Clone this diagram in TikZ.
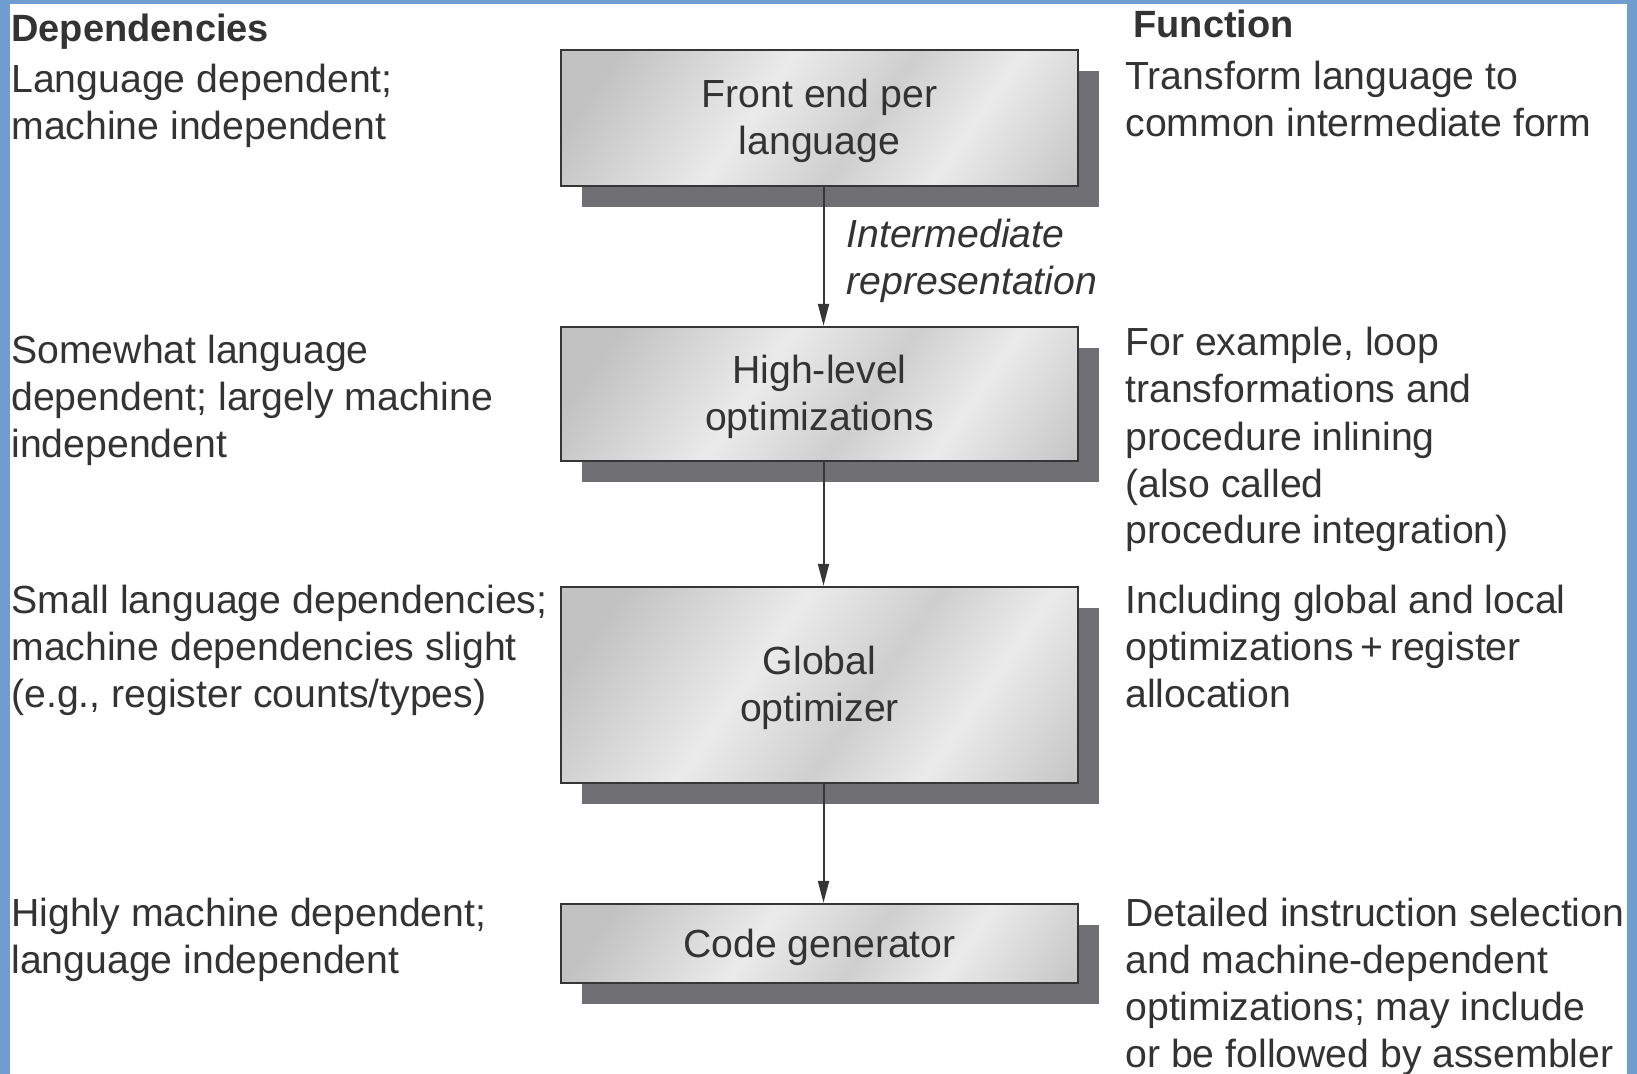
\documentclass[tikz,border=0pt]{standalone}
\usepackage{fontspec}
\setmainfont{Liberation Sans}
\usepackage{xcolor}
\usetikzlibrary{arrows.meta,positioning,shadows}

\definecolor{framebl}{HTML}{6F9DD0}
\definecolor{inkgray}{HTML}{333333}
\definecolor{shadegray}{HTML}{707074}
\definecolor{edgegray}{HTML}{363636}
\definecolor{metalA}{gray}{0.76}
\definecolor{metalB}{gray}{0.92}
\definecolor{metalC}{gray}{0.81}
\pgfdeclarehorizontalshading{metal}{100bp}{color(0bp)=(metalA); color(22bp)=(metalA); color(42bp)=(metalB); color(56bp)=(metalC); color(68bp)=(metalB); color(86bp)=(metalA); color(100bp)=(metalA)}
\newcommand{\upstrut}{\rule{0pt}{17.5pt}}

\begin{document}
\begin{tikzpicture}[
    x=0.5pt, y=-0.5pt,
    every node/.style={font=\fontsize{19.6}{23.5}\selectfont, text=inkgray},
    stage/.style={draw=edgegray, line width=1.2pt, shading=metal, shading angle=-35, minimum width=258.5pt, align=center, inner sep=0pt,
        drop shadow={shadow xshift=10.5pt, shadow yshift=-10.5pt, fill=shadegray, opacity=1}},
    note/.style={anchor=base west, align=left, inner sep=0pt},
    head/.style={note, font=\fontsize{19}{23.5}\selectfont\bfseries},
    arrow/.style={-{Triangle[length=11pt, width=5.5pt]}, line width=1pt, draw=edgegray}
]
    \useasboundingbox (0,0) rectangle (1637,1074);

    % Frame
    \fill[framebl] (0,0) rectangle (10,1074);
    \fill[framebl] (0,0) rectangle (1637,4);
    \fill[framebl] (1627,0) rectangle (1637,1074);

    % Stages
    \node[stage, minimum height=68pt] (front) at (819.5, 118) {\upstrut Front end per\\language};
    \node[stage, minimum height=67pt] (highlvl) at (819.5, 394) {\upstrut High-level\\optimizations};
    \node[stage, minimum height=98pt] (global) at (819.5, 685) {\upstrut Global\\optimizer};
    \node[stage, minimum height=39.5pt] (codegen) at (819.5, 943.5) {\rule{0pt}{18pt}Code generator};

    % Dependencies column (anchored at the last baseline)
    \node[head] (dephead) at (11, 42) {Dependencies};
    \node[note] (dep1) at (11, 140) {Language dependent;\\machine independent};
    \node[note] (dep2) at (11, 458) {Somewhat language\\dependent; largely machine\\independent};
    \node[note] (dep3) at (11, 707) {Small language dependencies;\\machine dependencies slight\\(e.g., register counts/types)};
    \node[note] (dep4) at (11, 973) {Highly machine dependent;\\language independent};

    % Function column
    \node[head] (funhead) at (1133, 38) {Function};
    \node[note] (fun1) at (1125, 137) {Transform language to\\common intermediate form};
    \node[note] (fun2) at (1125, 544) {For example, loop\\transformations and\\procedure inlining\\(also called\\procedure integration)};
    \node[note] (fun3) at (1125, 707) {Including global and local\\optimizations\,+\,register\\allocation};
    \node[note] (fun4) at (1125, 1067) {Detailed instruction selection\\and machine-dependent\\optimizations; may include\\or be followed by assembler};

    % Connections
    \draw[arrow] ([xshift=2pt]front.south) -- node[right=11pt, yshift=-2pt, inner sep=0pt, align=left, font=\fontsize{19.6}{23.5}\selectfont\itshape] (irlabel) {Intermediate\\representation} ([xshift=2pt]highlvl.north);
    \draw[arrow] ([xshift=2pt]highlvl.south) -- ([xshift=2pt]global.north);
    \draw[arrow] ([xshift=2pt]global.south) -- ([xshift=2pt]codegen.north);

\end{tikzpicture}
\end{document}
